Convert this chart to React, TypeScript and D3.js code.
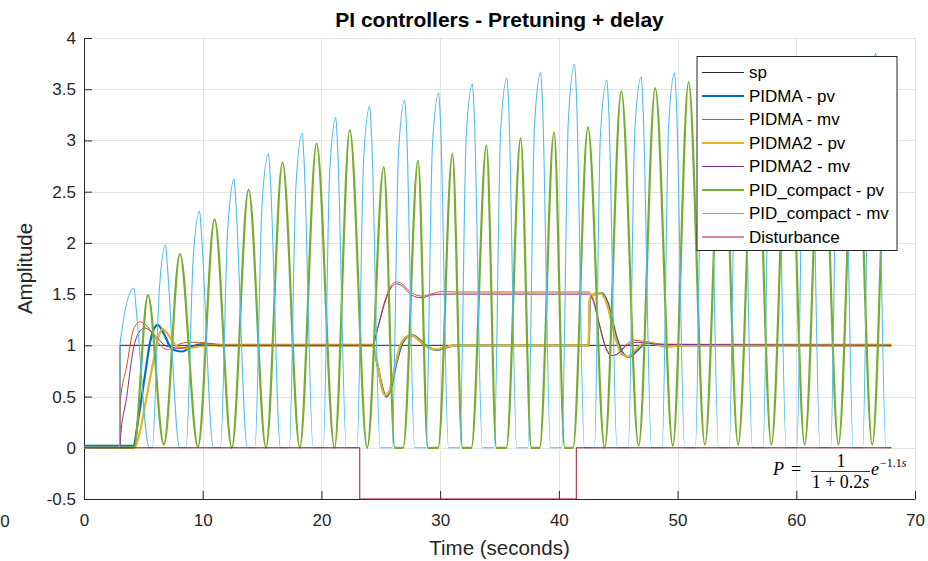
import { useEffect, useRef } from 'react';
import * as d3 from 'd3';

type Pt = [number, number];

// axis ticks
const xTicks = [0, 10, 20, 30, 40, 50, 60, 70];
const yTicks = [-0.5, 0, 0.5, 1, 1.5, 2, 2.5, 3, 3.5, 4];

// setpoint
const spData: Pt[] = [[0, 0], [3.03, 0], [3.03, 1], [68, 1]];

// PIDMA process value
const pidmaPv: Pt[] = [
  [0, 0.02], [4.15, 0.02], [4.6, 0.3], [5.1, 0.68], [5.6, 1.05], [6.2, 1.2], [6.7, 1.12],
  [7.2, 1.0], [7.7, 0.95], [8.3, 0.94], [9.0, 0.98], [9.8, 1.01], [10.6, 1.01], [11.5, 1.0],
  [24.3, 1.0], [24.7, 0.82], [25.1, 0.6], [25.45, 0.5], [25.8, 0.56], [26.3, 0.82], [26.8, 1.02],
  [27.2, 1.08], [27.7, 1.1], [28.3, 1.05], [28.9, 0.99], [29.7, 0.955], [30.5, 0.98], [31.3, 1.0],
  [42.52, 1.0], [42.62, 1.45], [43.0, 1.5], [43.6, 1.51], [44.1, 1.42], [44.8, 1.1], [45.3, 0.94],
  [45.9, 0.885], [46.6, 0.95], [47.4, 1.03], [48.2, 1.01], [49.0, 0.99], [50.0, 1.0], [68, 1.0],
];

// PIDMA manipulated value
const pidmaMv: Pt[] = [
  [0, 0], [3.02, 0], [3.04, 0.43], [3.6, 0.8], [4.15, 1.15], [4.45, 1.21], [4.75, 1.23], [5.2, 1.2],
  [5.7, 1.13], [6.3, 1.02], [6.7, 0.97], [7.1, 0.96], [7.6, 0.98], [8.2, 1.02], [9.0, 1.03], [9.7, 1.03],
  [10.5, 1.02], [11.5, 1.01], [24.3, 1.01], [24.8, 1.2], [25.3, 1.42], [25.8, 1.57], [26.3, 1.62],
  [26.8, 1.6], [27.4, 1.53], [28.0, 1.49], [28.5, 1.48], [29.2, 1.5], [30.2, 1.525], [31.5, 1.52],
  [42.55, 1.52], [42.9, 1.45], [43.4, 1.22], [43.9, 1.0], [44.5, 0.9], [45.0, 0.92], [45.6, 1.0],
  [46.3, 1.05], [47.0, 1.04], [48.0, 1.02], [49.0, 1.01], [68, 1.01],
];

// PIDMA2 process value
const pidma2Pv: Pt[] = [
  [0, 0], [4.25, 0], [4.7, 0.15], [5.2, 0.45], [5.8, 0.82], [6.2, 1.05], [6.6, 1.16], [7.0, 1.12],
  [7.5, 1.03], [8.0, 0.98], [8.9, 0.97], [9.6, 0.99], [10.5, 1.0], [24.3, 1.0], [24.7, 0.83],
  [25.05, 0.6], [25.35, 0.51], [25.7, 0.55], [26.2, 0.8], [26.7, 1.02], [27.1, 1.08], [27.6, 1.1],
  [28.2, 1.05], [28.8, 0.99], [29.6, 0.96], [30.4, 0.98], [31.2, 1.0], [42.5, 1.0], [42.6, 1.45],
  [43.0, 1.5], [43.5, 1.51], [44.0, 1.42], [44.7, 1.1], [45.2, 0.93], [45.8, 0.89], [46.5, 0.96],
  [47.3, 1.03], [48.2, 1.01], [49.2, 0.99], [50.5, 1.0], [68, 1.0],
];

// PIDMA2 manipulated value
const pidma2Mv: Pt[] = [
  [0, 0], [3.02, 0], [3.04, 0.05], [3.6, 0.5], [4.15, 0.96], [4.6, 1.12], [5.1, 1.17], [5.6, 1.14],
  [6.2, 1.07], [6.8, 1.0], [7.4, 0.98], [8.0, 0.97], [8.8, 0.99], [9.6, 1.0], [24.3, 1.0], [24.8, 1.19],
  [25.3, 1.4], [25.8, 1.55], [26.3, 1.6], [26.8, 1.58], [27.4, 1.51], [28.0, 1.47], [28.5, 1.465],
  [29.2, 1.49], [30.2, 1.5], [42.55, 1.5], [42.9, 1.43], [43.4, 1.2], [43.9, 0.99], [44.4, 0.9],
  [45.0, 0.92], [45.6, 0.99], [46.6, 1.03], [47.5, 1.02], [48.5, 1.01], [68, 1.0],
];

// PID_compact process value
const compactPv: Pt[] = [
  [0, 0], [4.2, 0], [5.39, 1.49], [6.73, 0.03], [8.08, 1.89], [9.6, 0.01], [11.0, 2.23], [12.45, 0],
  [13.86, 2.52], [15.33, 0], [16.72, 2.785], [18.18, 0], [19.59, 2.97], [21.1, 0], [22.39, 3.1],
  [23.85, 0], [25.25, 2.74], [26.18, 0], [26.88, 0], [28.14, 2.8], [28.97, 0], [29.83, 0],
  [31.03, 2.87], [31.88, 0], [32.63, 0], [33.9, 2.95], [34.74, 0], [35.58, 0], [36.78, 3.02],
  [37.68, 0], [38.38, 0], [39.59, 3.08], [40.49, 0], [41.19, 0], [42.45, 3.13], [43.86, 0],
  [45.26, 3.48], [46.72, 0.02], [48.12, 3.51], [49.6, 0.02], [50.93, 3.57], [52.3, 0.03],
  [53.75, 3.6], [55.1, 0.03], [56.55, 3.62], [57.9, 0.03], [59.35, 3.63], [60.7, 0.03],
  [62.15, 3.64], [63.55, 0.03], [65.0, 3.65], [66.4, 0.03], [67.8, 3.66], [68, 3.5],
];

// PID_compact manipulated value
const compactMv: Pt[] = [
  [0, 0], [3.0, 0], [3.02, 1.0], [4.21, 1.56], [4.4, 1.35], [5.5, 0], [5.75, 0], [6.35, 1.55],
  [6.87, 1.98], [7.02, 1.78], [8.05, 0], [8.6, 0], [9.2, 1.85], [9.74, 2.31], [9.9, 2.08], [10.9, 0],
  [11.5, 0], [12.1, 2.12], [12.65, 2.62], [12.8, 2.38], [13.75, 0], [14.4, 0], [15.0, 2.38],
  [15.54, 2.87], [15.7, 2.62], [16.55, 0], [17.3, 0], [17.85, 2.55], [18.38, 3.07], [18.53, 2.82],
  [19.3, 0], [20.15, 0], [20.7, 2.7], [21.21, 3.22], [21.36, 2.95], [22.1, 0], [23.0, 0],
  [23.55, 2.8], [24.07, 3.33], [24.22, 3.05], [24.95, 0], [25.95, 0], [26.5, 2.9], [27.02, 3.39],
  [27.17, 3.12], [27.85, 0], [28.8, 0], [29.35, 2.95], [29.88, 3.46], [30.03, 3.18], [30.7, 0],
  [31.65, 0], [32.2, 3.05], [32.72, 3.55], [32.87, 3.27], [33.55, 0], [34.55, 0], [35.1, 3.1],
  [35.63, 3.61], [35.78, 3.32], [36.45, 0], [37.4, 0], [37.95, 3.15], [38.47, 3.66], [38.62, 3.37],
  [39.3, 0], [40.25, 0], [40.8, 3.2], [41.33, 3.74], [41.48, 3.45], [42.15, 0], [43.0, 0],
  [43.5, 3.05], [44.05, 3.59], [44.2, 3.3], [44.9, 0], [45.85, 0], [46.4, 3.1], [46.94, 3.62],
  [47.09, 3.33], [47.8, 0], [48.7, 0], [49.25, 3.15], [49.75, 3.66], [49.9, 3.37], [50.6, 0],
  [51.5, 0], [52.05, 3.2], [52.6, 3.7], [52.75, 3.4], [53.45, 0], [54.35, 0], [54.9, 3.22],
  [55.45, 3.73], [55.6, 3.43], [56.3, 0], [57.2, 0], [57.75, 3.25], [58.3, 3.76], [58.45, 3.46],
  [59.15, 0], [60.05, 0], [60.6, 3.28], [61.15, 3.79], [61.3, 3.49], [62.0, 0], [62.9, 0],
  [63.45, 3.3], [63.95, 3.82], [64.1, 3.52], [64.8, 0], [65.6, 0], [66.15, 3.35], [66.7, 3.85],
  [66.85, 3.55], [67.55, 0], [68, 0],
];

// load disturbance
const disturbance: Pt[] = [[0, 0], [23.23, 0], [23.23, -0.5], [41.47, -0.5], [41.47, 0], [68, 0]];

const seriesNames = [
  'sp', 'PIDMA - pv', 'PIDMA - mv', 'PIDMA2 - pv', 'PIDMA2 - mv',
  'PID_compact - pv', 'PID_compact - mv', 'Disturbance',
];
const seriesData = [spData, pidmaPv, pidmaMv, pidma2Pv, pidma2Mv, compactPv, compactMv, disturbance];
const seriesColors = ['#262626', '#0072BD', '#D95319', '#EDB120', '#7E2F8E', '#77AC30', '#4DBEEE', '#A2142F'];
const seriesWidths = [1, 2.2, 1, 2.2, 1, 2.2, 1.1, 1];
const seriesStep = [true, false, false, false, false, false, false, true];

export default function App() {
  const svgRef = useRef<SVGSVGElement | null>(null);

  const W = 928;
  const H = 561;
  const margin = { top: 38, right: 13, bottom: 62, left: 84 };
  const font = 'Liberation Sans, Arial, Helvetica, sans-serif';

  useEffect(() => {
    const svg = d3.select(svgRef.current);
    svg.selectAll('*').remove();

    const x = d3.scaleLinear().domain([0, 70]).range([margin.left, W - margin.right]);
    const y = d3.scaleLinear().domain([-0.5, 4]).range([H - margin.bottom, margin.top]);

    svg.append('rect').attr('width', W).attr('height', H).attr('fill', '#fff');

    // grid
    const grid = svg.append('g').attr('stroke', '#e3e3e3').attr('stroke-width', 1);
    xTicks.forEach((t) => {
      grid.append('line')
        .attr('x1', Math.round(x(t)) + 0.5).attr('x2', Math.round(x(t)) + 0.5)
        .attr('y1', y(4)).attr('y2', y(-0.5));
    });
    yTicks.forEach((t) => {
      grid.append('line')
        .attr('x1', x(0)).attr('x2', x(70))
        .attr('y1', Math.round(y(t)) + 0.5).attr('y2', Math.round(y(t)) + 0.5);
    });

    // axes
    const xAxis = svg.append('g')
      .attr('transform', `translate(0,${y(-0.5)})`)
      .call(d3.axisBottom(x).tickValues(xTicks).tickSizeInner(-8).tickSizeOuter(0).tickPadding(15)
        .tickFormat((d) => String(d)));
    const yAxis = svg.append('g')
      .attr('transform', `translate(${x(0)},0)`)
      .call(d3.axisLeft(y).tickValues(yTicks).tickSizeInner(-8).tickSizeOuter(0).tickPadding(8)
        .tickFormat((d) => String(d)));
    [xAxis, yAxis].forEach((a) => {
      a.select('.domain').attr('stroke', '#262626');
      a.selectAll('.tick line').attr('stroke', '#262626');
      a.selectAll('.tick text').attr('fill', '#262626').style('font-size', '17px').style('font-family', font);
    });

    // lines
    seriesData.forEach((data, i) => {
      const line = d3.line<Pt>()
        .x((d) => x(d[0]))
        .y((d) => y(d[1]))
        .curve(seriesStep[i] ? d3.curveLinear : d3.curveMonotoneX);
      svg.append('path')
        .datum(data)
        .attr('fill', 'none')
        .attr('stroke', seriesColors[i])
        .attr('stroke-width', seriesWidths[i])
        .attr('stroke-linejoin', 'round')
        .attr('d', line);
    });

    // legend
    const lg = svg.append('g').attr('transform', 'translate(697,56.5)');
    lg.append('rect')
      .attr('width', 200).attr('height', 194)
      .attr('fill', '#fff').attr('stroke', '#262626').attr('stroke-width', 1);
    seriesNames.forEach((name, i) => {
      const yy = 16 + i * 23.5;
      lg.append('line')
        .attr('x1', 5).attr('x2', 47).attr('y1', yy).attr('y2', yy)
        .attr('stroke', seriesColors[i]).attr('stroke-width', seriesWidths[i]);
      lg.append('text')
        .attr('x', 52).attr('y', yy).attr('dy', '0.35em')
        .style('font-size', '17px').style('font-family', font).attr('fill', '#000')
        .text(name);
    });

    // formula
    const serif = 'Liberation Serif, DejaVu Serif, serif';
    const fm = svg.append('g').style('font-family', serif).attr('fill', '#000');
    fm.append('text').attr('x', 773).attr('y', 475).style('font-size', '18px').style('font-style', 'italic').text('P');
    fm.append('text').attr('x', 791).attr('y', 475).style('font-size', '18px').text('=');
    fm.append('line').attr('x1', 811).attr('x2', 870).attr('y1', 471.5).attr('y2', 471.5)
      .attr('stroke', '#000').attr('stroke-width', 0.8);
    fm.append('text').attr('x', 841).attr('y', 467).attr('text-anchor', 'middle').style('font-size', '18px').text('1');
    const den = fm.append('text').attr('x', 840.5).attr('y', 488).attr('text-anchor', 'middle').style('font-size', '18px');
    den.append('tspan').text('1 + 0.2');
    den.append('tspan').style('font-style', 'italic').text('s');
    fm.append('text').attr('x', 871).attr('y', 475).style('font-size', '18px').style('font-style', 'italic').text('e');
    const sup = fm.append('text').attr('x', 880).attr('y', 467).style('font-size', '12px');
    sup.append('tspan').text('\u22121.1');
    sup.append('tspan').style('font-style', 'italic').text('s');

    // titles
    svg.append('text')
      .attr('x', (x(0) + x(70)) / 2).attr('y', 27).attr('text-anchor', 'middle')
      .style('font-size', '21px').style('font-weight', 'bold').style('font-family', font).attr('fill', '#000')
      .text('PI controllers - Pretuning + delay');
    svg.append('text')
      .attr('x', (x(0) + x(70)) / 2).attr('y', 555).attr('text-anchor', 'middle')
      .style('font-size', '20.5px').style('font-family', font).attr('fill', '#262626')
      .text('Time (seconds)');
    svg.append('text')
      .attr('transform', `translate(32,${(y(4) + y(-0.5)) / 2}) rotate(-90)`)
      .attr('text-anchor', 'middle')
      .style('font-size', '20.5px').style('font-family', font).attr('fill', '#262626')
      .text('Amplitude');

    // stray tick label of an underlying axes at the far left
    svg.append('text')
      .attr('x', 5).attr('y', 527).attr('text-anchor', 'middle')
      .style('font-size', '17px').style('font-family', font).attr('fill', '#262626')
      .text('0');
  }, []);

  return (
    <svg
      ref={svgRef}
      width={W}
      height={H}
      style={{ position: 'absolute', left: 0, top: 0, display: 'block' }}
    />
  );
}
